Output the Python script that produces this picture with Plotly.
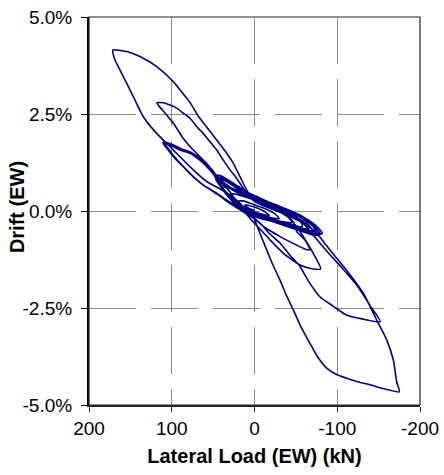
import plotly.graph_objects as go

# ---- data (lateral load in kN, drift in %) ----
# small dense cycles near the origin
dense_load = [0, 6, 12, 8, 0, -8, -14, -18, -12, -4, 2,
              10, 16, 20, 14, 5, -5, -15, -24, -30, -24, -14, -4, 4,
              14, 22, 27, 30, 24, 14, 2, -10, -22, -34, -40, -45, -38, -28, -16, -4, 6,
              16, 25, 32, 36, 38, 32, 22, 10, -2, -16, -30, -42, -50, -55, -58, -50, -38, -24, -10, 2, 10,
              20, 28, 35, 40, 44, 38, 28, 16, 4, -8, -22, -36, -48, -58, -65, -70, -62, -50, -36, -20, -6, 6, 14,
              24, 32, 38, 43, 46, 40, 30, 18, 6, -6, -20, -34, -48, -60, -68, -74, -78, -70, -60, -48, -34, -18, -2, 12,
              22, 30, 36, 40, 42, 36, 26, 14, 2, -10, -24, -38, -52, -62, -70, -76, -68, -56, -40, -24, -8, 4,
              4, 14, 24, 32, 38, 44, 48, 42, 32, 20, 8, -4, -18, -32, -46, -58, -66, -72, -76, -80, -72, -60, -46, -32, -16, -2, 10,
              10, 20, 28, 34, 40, 36, 26, 12, 0, -12, -26, -40, -52, -60, -66, -58, -46, -32, -18, -4, 8,
              8, 18, 26, 34, 40, 45, 40, 30, 18, 6, -6, -18, -30, -44, -56, -64, -70, -74, -66, -54, -40, -26, -12, 2, 6,
              6, 16, 26, 34, 42, 47, 42, 34, 22, 10, -2, -14, -28, -42, -54, -64, -72, -78, -82, -74, -62, -48, -34, -20, -6, 4]
dense_drift = [0.02, 0.06, 0.15, 0.15, 0.10, 0.03, -0.04, -0.12, -0.10, -0.05, 0.00,
               0.08, 0.15, 0.25, 0.26, 0.20, 0.12, 0.04, -0.06, -0.20, -0.19, -0.15, -0.10, -0.02,
               0.08, 0.20, 0.30, 0.42, 0.44, 0.38, 0.30, 0.20, 0.10, -0.02, -0.14, -0.30, -0.29, -0.25, -0.20, -0.14, -0.04,
               0.08, 0.22, 0.38, 0.50, 0.60, 0.62, 0.55, 0.45, 0.34, 0.22, 0.10, -0.02, -0.14, -0.26, -0.40, -0.40, -0.34, -0.26, -0.18, -0.10, -0.02,
               0.12, 0.28, 0.45, 0.60, 0.78, 0.80, 0.68, 0.52, 0.38, 0.26, 0.14, 0.02, -0.08, -0.20, -0.34, -0.50, -0.48, -0.38, -0.30, -0.22, -0.15, -0.06, 0.02,
               0.20, 0.38, 0.55, 0.72, 0.86, 0.88, 0.76, 0.60, 0.42, 0.30, 0.18, 0.06, -0.05, -0.18, -0.30, -0.44, -0.57, -0.58, -0.50, -0.38, -0.28, -0.20, -0.13, -0.02,
               0.16, 0.34, 0.50, 0.66, 0.82, 0.82, 0.70, 0.55, 0.40, 0.28, 0.15, 0.03, -0.08, -0.22, -0.38, -0.60, -0.58, -0.48, -0.36, -0.26, -0.17, -0.08,
               -0.08, 0.06, 0.24, 0.42, 0.58, 0.74, 0.90, 0.92, 0.80, 0.64, 0.48, 0.36, 0.22, 0.10, -0.02, -0.14, -0.26, -0.38, -0.48, -0.60, -0.62, -0.54, -0.42, -0.32, -0.24, -0.16, -0.04,
               -0.04, 0.12, 0.30, 0.46, 0.64, 0.66, 0.56, 0.40, 0.28, 0.18, 0.06, -0.06, -0.18, -0.30, -0.44, -0.46, -0.38, -0.30, -0.22, -0.12, -0.02,
               -0.02, 0.14, 0.30, 0.48, 0.62, 0.80, 0.84, 0.72, 0.56, 0.44, 0.32, 0.22, 0.12, 0.00, -0.12, -0.24, -0.36, -0.52, -0.54, -0.46, -0.36, -0.28, -0.20, -0.12, -0.06,
               -0.06, 0.10, 0.28, 0.46, 0.66, 0.84, 0.88, 0.80, 0.66, 0.50, 0.38, 0.26, 0.14, 0.02, -0.10, -0.22, -0.34, -0.46, -0.58, -0.62, -0.56, -0.46, -0.36, -0.26, -0.16, -0.08]

# third-level cycles (first pass)
loop3a_load = [4, 18, 32, 45.7, 62, 74, 86, 98, 106, 111, 102, 90, 78, 66, 54, 45.7, 34, 20, 5, -10,
               -25, -38, -47, -51, -61, -67, -60, -51, -31, -11, 0]
loop3a_drift = [-0.10, 0.08, 0.26, 0.46, 0.67, 0.88, 1.14, 1.40, 1.62, 1.76, 1.70, 1.57, 1.49, 1.31, 1.06, 0.84, 0.64, 0.46, 0.32, 0.18,
                0.04, -0.12, -0.28, -0.53, -0.75, -1.00, -0.97, -0.88, -0.66, -0.40, -0.20]

# third-level cycles (second pass)
loop3b_load = [0, 15, 30, 44, 60, 72, 84, 96, 104, 110, 100, 88, 76, 64, 52, 44, 30, 15, 0, -15,
               -30, -42, -50, -59, -71, -80, -68, -55, -35, -19, -6, 5]
loop3b_drift = [-0.20, 0.00, 0.20, 0.42, 0.64, 0.85, 1.10, 1.38, 1.60, 1.78, 1.72, 1.60, 1.50, 1.33, 1.08, 0.86, 0.62, 0.45, 0.30, 0.15,
                0.00, -0.18, -0.38, -0.66, -1.09, -1.49, -1.48, -1.39, -1.09, -0.75, -0.45, -0.20]

# second-level cycle
loop2_load = [5, 20, 30, 41.7, 58, 74, 86, 98, 108, 116, 118, 110, 102, 94, 86, 78, 68, 62, 54, 45.7,
              37.7, 29.6, 21.5, 9.4, 0, -20, -40, -58, -72, -88, -105, -125, -140, -152, -130, -111, -95, -79, -65, -55,
              -42, -31, -18, -9, 5]
loop2_drift = [-0.20, 0.20, 0.50, 0.80, 1.23, 1.57, 1.87, 2.26, 2.52, 2.72, 2.79, 2.79, 2.73, 2.65, 2.52, 2.39, 2.13, 2.00, 1.79, 1.57,
               1.31, 1.06, 0.84, 0.46, 0.25, 0.06, -0.10, -0.30, -0.65, -1.05, -1.45, -1.95, -2.45, -2.85, -2.78, -2.68, -2.45, -2.21, -1.80, -1.43,
               -1.12, -0.83, -0.58, -0.36, -0.10]

# outermost cycle
loop1_load = [5, 20, 39.3, 57.8, 74, 98, 118.2, 134.4, 146.5, 154.4, 162.5, 168.6, 171, 171.4, 154.4, 138.4, 118.2, 98, 90, 78,
              68, 58, 45.7, 33.6, 25.6, 17.5, 9.4, 1.4, -10, -25, -42, -60, -75, -91, -111, -131.5, -147.7, -159.8, -167.8, -171.8,
              -175, -160, -139.6, -125, -111.4, -98, -87.2, -76, -67, -56, -46.9, -38, -30.8, -22, -14.7, -8, -2.7, 3]
loop1_drift = [-0.10, 0.25, 0.54, 0.76, 1.06, 1.57, 2.00, 2.43, 2.95, 3.29, 3.63, 3.89, 4.07, 4.15, 4.11, 3.98, 3.72, 3.33, 3.12, 2.80,
               2.45, 2.17, 1.83, 1.49, 1.23, 0.88, 0.54, 0.28, 0.16, 0.02, -0.14, -0.32, -0.57, -1.00, -1.52, -2.12, -2.81, -3.32, -3.84, -4.40,
               -4.66, -4.60, -4.48, -4.40, -4.31, -4.20, -4.05, -3.75, -3.41, -2.98, -2.55, -2.15, -1.78, -1.38, -1.00, -0.65, -0.36, -0.05]

x_tick_vals = [200, 100, 0, -100, -200]
x_tick_labels = ["200", "100", "0", "-100", "-200"]
y_tick_vals = [-5, -2.5, 0, 2.5, 5]
y_tick_labels = ["-5.0%", "-2.5%", "0.0%", "2.5%", "5.0%"]

load_all = dense_load + loop3a_load + loop3b_load + loop2_load + loop1_load
drift_all = dense_drift + loop3a_drift + loop3b_drift + loop2_drift + loop1_drift

FONT = "Liberation Sans, Arial, sans-serif"
L, R, T, B = 89, 24, 17, 70
W, H = 444, 475
plot_w = W - L - R

fig = go.Figure()
fig.add_trace(go.Scatter(x=load_all, y=drift_all, mode="lines",
                         line=dict(color="#000080", width=1.6, shape="spline", smoothing=0.6),
                         showlegend=False))

fig.update_layout(
    width=W, height=H,
    margin=dict(l=L, r=R, t=T, b=B),
    paper_bgcolor="white", plot_bgcolor="white",
    font=dict(family=FONT, color="black", size=19),
    xaxis=dict(range=[200, -200], tickvals=x_tick_vals, ticktext=x_tick_labels,
               automargin=False,
               showgrid=True, gridcolor="#8c8c8c", gridwidth=1, griddash="47px,15px",
               zeroline=False, showline=True, linecolor="#222222", linewidth=1.5,
               ticks="outside", ticklen=5, tickcolor="#222222", tickwidth=1,
               tickfont=dict(size=19, family=FONT),
               title=dict(text="<b>Lateral Load (EW) (kN)</b>",
                          font=dict(size=20, family=FONT, weight="bold"), standoff=11)),
    yaxis=dict(range=[-5, 5], tickvals=y_tick_vals, ticktext=y_tick_labels,
               automargin=False,
               showgrid=True, gridcolor="#8c8c8c", gridwidth=1, griddash="47px,15px",
               zeroline=False, showline=True, linecolor="black", linewidth=2,
               ticks="outside", ticklen=6, tickcolor="black", tickwidth=1,
               ticklabelstandoff=5,
               tickfont=dict(size=19, family=FONT)),
    annotations=[dict(text="<b>Drift (EW)</b>", textangle=-90,
                      xref="paper", yref="paper", x=(17 - L) / plot_w, y=0.51,
                      xanchor="center", yanchor="middle", showarrow=False,
                      font=dict(size=20, family=FONT, weight="bold"))],
    shapes=[dict(type="rect", xref="paper", yref="paper", x0=0, x1=1, y0=0, y1=1,
                 line=dict(color="#222222", width=1.2), layer="above")],
)

fig.write_html("out.html")
